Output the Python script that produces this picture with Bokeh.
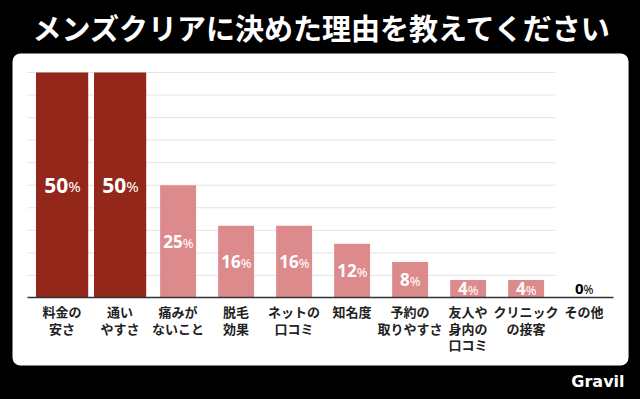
from bokeh.plotting import figure
from bokeh.models import ColumnDataSource, Range1d, BoxAnnotation, FixedTicker, Label
from bokeh.core.properties import value as V
from bokeh.embed import file_html
from bokeh.resources import INLINE
from jinja2 import Template

# ---- data ----
categories = ["料金の\n安さ", "通い\nやすさ", "痛みが\nないこと", "脱毛\n効果", "ネットの\n口コミ",
              "知名度", "予約の\n取りやすさ", "友人や\n身内の\n口コミ", "クリニック\nの接客", "その他"]
values = [50, 50, 25, 16, 16, 12, 8, 4, 4, 0]
grid_values = [5, 10, 15, 20, 25, 30, 35, 40, 45, 50]
title_text = "メンズクリアに決めた理由を教えてください"
brand = "Gravil"

# ---- styles ----
DARK = "#93271a"
PINK = "#dd8a8d"
JP = "Noto Sans CJK JP"
NUM = "Noto Sans"

top = max(values)
xs = list(range(len(categories)))
hi = [v == top for v in values]
widths = [0.9 if h else 0.62 for h in hi]
colors = [DARK if h else PINK for h in hi]

num_fs = [21 if h else (15 if v == 0 else 17) for h, v in zip(hi, values)]
pct_fs = [15 if h else (12 if v == 0 else 13) for h, v in zip(hi, values)]
num_txt = [str(v) for v in values]
offs = [(len(t) * 0.6 * nf - 0.85 * pf) / 2 for t, nf, pf in zip(num_txt, num_fs, pct_fs)]
label_y = [max(v / 2, 2.1) for v in values]
label_col = ["white" if v > 0 else "black" for v in values]

src = ColumnDataSource(dict(
    x=xs, top=values, w=widths, c=colors, ly=label_y, lc=label_col,
    nt=num_txt, pt=["%"] * len(values), off=offs,
    nfs=[f"{f}px" for f in num_fs], pfs=[f"{f}px" for f in pct_fs],
))

p = figure(width=640, height=399, output_backend="svg", toolbar_location=None,
           x_range=Range1d(-1.062, 9.972), y_range=Range1d(-22.51, 65.96),
           min_border=0, min_border_left=0, min_border_right=0,
           min_border_top=0, min_border_bottom=0,
           border_fill_color="black", background_fill_color="black",
           outline_line_color=None)

panel = BoxAnnotation(left=-0.855, right=9.766, top=54.21, bottom=-14.97,
                      fill_color="white", fill_alpha=1.0, line_color=None,
                      border_radius=8, level="underlay")
p.add_layout(panel)

p.xgrid.visible = False
p.ygrid.visible = False
p.yaxis.visible = False

p.segment(x0=-0.6, x1=8.5, y0=grid_values, y1=grid_values,
          line_color="#e4e4e4", line_width=1)

p.vbar(x="x", top="top", width="w", fill_color="c", line_color=None, source=src)

p.text(x="x", y="ly", text="nt", text_align="right", text_baseline="middle",
       x_offset="off", text_font_size="nfs", text_font_style="bold",
       text_font=V(NUM), text_color="lc", source=src)
p.text(x="x", y="ly", text="pt", text_align="left", text_baseline="middle",
       x_offset="off", y_offset=1, text_font_size="pfs", text_font_style="normal",
       text_font=V(NUM), text_color="lc", source=src)

ax = p.xaxis[0]
ax.fixed_location = 0
ax.ticker = FixedTicker(ticks=xs)
ax.major_label_overrides = {i: c for i, c in zip(xs, categories)}
ax.bounds = (-0.6, 9.5)
ax.axis_line_color = "#333333"
ax.axis_line_width = 1.5
ax.major_tick_line_color = None
ax.minor_tick_line_color = None
ax.major_label_text_font = JP
ax.major_label_text_font_style = "bold"
ax.major_label_text_font_size = "13px"
ax.major_label_text_color = "#222222"
ax.major_label_text_line_height = 0.88
ax.major_label_standoff = -2

p.add_layout(Label(x=4.49, y=59.98, text=title_text, text_align="center", text_baseline="middle",
                   text_color="white", text_font=JP, text_font_style="bold",
                   text_font_size="29px"))
p.add_layout(Label(x=9.697, y=-18.51, text=brand, text_align="right", text_baseline="middle",
                   text_color="white", text_font="DejaVu Sans", text_font_style="bold",
                   text_font_size="16px"))

tmpl = Template("""{% extends base %}
{% block preamble %}<style>html, body { background: #000; margin: 0; }</style>{% endblock %}""")

open("out.html", "w").write(file_html(p, INLINE, title="chart", template=tmpl))
